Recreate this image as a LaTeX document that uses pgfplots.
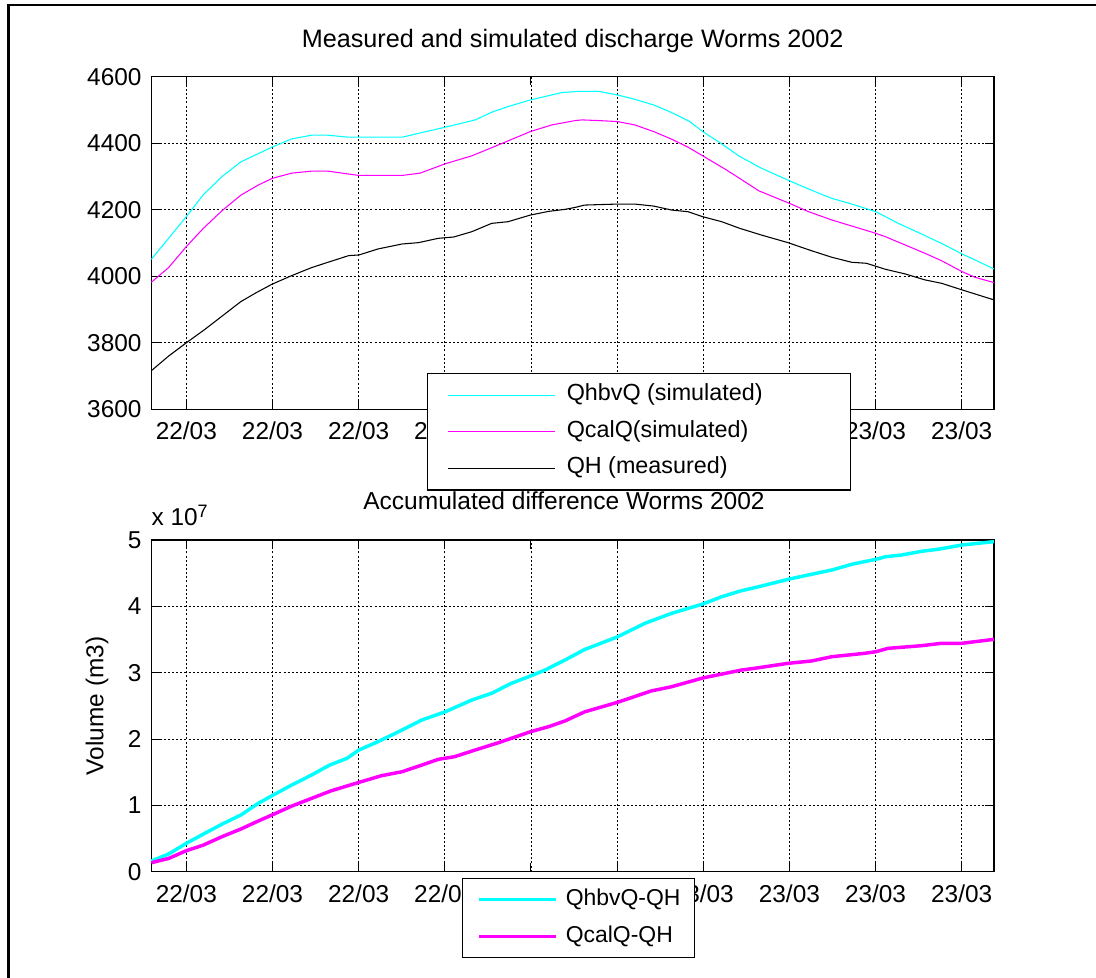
\documentclass[border=0pt]{standalone}
\usepackage{fontspec}
\setmainfont{Liberation Sans}
\usepackage{pgfplots}
\pgfplotsset{compat=1.18}
\definecolor{mcyan}{RGB}{0,255,255}
\definecolor{mmag}{RGB}{255,0,255}
\begin{document}
\begin{tikzpicture}
\path[use as bounding box] (0,0) rectangle (822pt,733.5pt);
\draw[line width=2.2pt] (6.2pt,0pt) -- (6.2pt,729.75pt) -- (822pt,729.75pt);
\pgfplotsset{common/.style={
  scale only axis, width=632pt, anchor=south west, clip=false,
  xmin=0, xmax=9.781,
  xtick={0.406,1.406,2.406,3.406,4.406,5.406,6.406,7.406,8.406,9.406},
  grid=major,
  major grid style={black, line width=0.55pt, dash pattern=on 1.5pt off 1.6pt},
  tick align=inside, major tick length=6.5pt,
  every tick/.style={black, line width=0.8pt},
  axis line style={line width=0.8pt},
  tick label style={font=\fontsize{18.3}{21}\selectfont},
  /pgf/number format/assume math mode=true,
  /pgf/number format/1000 sep={},
  xticklabel style={inner sep=0pt, anchor=north, yshift=-9.3pt},
  yticklabel style={inner sep=0pt, anchor=east, xshift=-7.2pt},
  title style={font=\fontsize{18.4}{22}\selectfont, inner sep=0pt, anchor=base},
  legend cell align=left,
}}
% ---------- top axis ----------
\begin{axis}[common, at={(113.5pt,426.5pt)}, height=249.5pt,
  xticklabels={22/03,22/03,22/03,22/03,,,,,23/03,23/03},
  ymin=3600, ymax=4600, ytick={3600,3800,4000,4200,4400,4600},
  title={Measured and simulated discharge Worms 2002},
  title style={at={(0.5,1)}, yshift=15.5pt, font=\fontsize{18.9}{22}\selectfont},
  legend image code/.code={\draw[#1] (0pt,0pt) -- (80pt,0pt);},
  legend style={at={(rel axis cs:0.3268,0.110)}, anchor=north west,
    draw=black, line width=0.9pt, fill=white,
    inner xsep=15pt, inner ysep=7.6pt, row sep=9.9pt,
    font=\fontsize{17.5}{21}\selectfont,
    cells={anchor=west},
    nodes={inner sep=0pt, text height=13pt, text depth=4.5pt},
    /tikz/every odd column/.append style={column sep=8.8pt}},
]
\addplot[mcyan, line width=0.8pt, mark=none] coordinates {
(0,4051) (0.406,4179) (0.60,4244) (0.817,4299) (1.04,4344) (1.40,4388) (1.63,4413) (1.86,4424) (2.05,4424) (2.29,4418) (2.41,4418) (2.91,4418) (3.14,4432) (3.41,4448) (3.76,4470) (3.95,4493) (4.14,4510) (4.40,4530) (4.76,4552) (4.96,4556) (5.19,4556) (5.41,4545) (5.61,4532) (5.83,4515) (6.04,4492) (6.25,4465) (6.40,4435) (6.62,4398) (6.83,4360) (7.08,4325) (7.39,4289) (7.63,4262) (7.90,4234) (8.13,4217) (8.41,4194) (8.67,4159) (8.94,4127) (9.17,4099) (9.41,4067) (9.52,4054) (9.78,4022)
};
\addlegendentry{\makebox[198pt][l]{QhbvQ (simulated)}}
\addplot[mmag, line width=0.8pt, mark=none] coordinates {
(0,3982) (0.20,4026) (0.406,4089) (0.60,4143) (0.82,4197) (1.04,4244) (1.24,4274) (1.40,4294) (1.63,4310) (1.86,4316) (2.05,4316) (2.41,4303) (2.91,4303) (3.12,4310) (3.41,4338) (3.72,4362) (4.03,4395) (4.40,4435) (4.65,4455) (4.92,4468) (5.00,4470) (5.19,4468) (5.41,4465) (5.61,4455) (5.83,4435) (6.04,4412) (6.23,4388) (6.40,4362) (6.66,4322) (6.83,4294) (7.05,4257) (7.39,4221) (7.63,4194) (7.90,4169) (8.13,4151) (8.41,4129) (8.52,4119) (8.75,4094) (8.98,4069) (9.17,4047) (9.41,4014) (9.56,3997) (9.78,3981)
};
\addlegendentry{\makebox[198pt][l]{QcalQ(simulated)}}
\addplot[black, line width=0.8pt, mark=none] coordinates {
(0,3716) (0.20,3760) (0.406,3800) (0.62,3840) (0.84,3884) (1.04,3924) (1.22,3951) (1.40,3976) (1.63,4002) (1.86,4026) (2.05,4042) (2.29,4062) (2.41,4064) (2.63,4082) (2.91,4097) (3.10,4101) (3.33,4114) (3.51,4118) (3.72,4134) (3.95,4159) (4.14,4164) (4.40,4184) (4.61,4195) (4.80,4201) (4.92,4207) (5.03,4214) (5.41,4217) (5.61,4217) (5.83,4211) (6.04,4199) (6.23,4194) (6.40,4179) (6.62,4164) (6.83,4144) (7.08,4124) (7.39,4101) (7.66,4077) (7.90,4057) (8.13,4042) (8.30,4039) (8.52,4021) (8.75,4007) (8.98,3989) (9.17,3979) (9.41,3959) (9.78,3929)
};
\addlegendentry{\makebox[198pt][l]{QH (measured)}}
\end{axis}
% ---------- bottom axis ----------
\begin{axis}[common, at={(113.5pt,79.7pt)}, height=248.8pt,
  xticklabels={22/03,22/03,22/03,22/03,,,23/03,23/03,23/03,23/03},
  ymin=0, ymax=5, ytick={0,1,2,3,4,5},
  title={Accumulated difference Worms 2002},
  title style={at={(0.4897,1)}, yshift=16.7pt},
  ylabel={Volume (m3)},
  ylabel style={at={(rel axis cs:-0.0644,0.5)}, anchor=center, inner sep=0pt, font=\fontsize{18.3}{21}\selectfont},
  legend image code/.code={\draw[#1] (0pt,0pt) -- (58pt,0pt);},
  legend style={at={(rel axis cs:0.369,-0.0181)}, anchor=north west,
    draw=black, line width=0.9pt, fill=white,
    inner xsep=10.8pt, inner ysep=7.3pt, row sep=10pt,
    font=\fontsize{17.2}{21}\selectfont,
    cells={anchor=west},
    nodes={inner sep=0pt, text height=13pt, text depth=4.5pt},
    /tikz/every odd column/.append style={column sep=5.8pt}},
]
\addplot[mcyan, line width=2.6pt, mark=none, line join=round] coordinates {
(0,0.161) (0.20,0.267) (0.406,0.428) (0.62,0.579) (0.84,0.73) (1.04,0.855) (1.24,1.03) (1.40,1.146) (1.63,1.307) (1.86,1.458) (2.07,1.608) (2.27,1.709) (2.41,1.835) (2.63,1.96) (2.87,2.11) (3.14,2.287) (3.41,2.41) (3.72,2.588) (3.95,2.69) (4.18,2.84) (4.40,2.95) (4.57,3.04) (4.80,3.19) (5.03,3.35) (5.41,3.54) (5.73,3.745) (6.04,3.895) (6.40,4.035) (6.62,4.145) (6.85,4.236) (7.05,4.296) (7.39,4.407) (7.66,4.483) (7.90,4.548) (8.13,4.634) (8.41,4.709) (8.52,4.748) (8.71,4.774) (8.94,4.83) (9.13,4.86) (9.41,4.925) (9.78,4.975)
};
\addlegendentry{\makebox[86pt][l]{QhbvQ-QH}}
\addplot[mmag, line width=2.6pt, mark=none, line join=round] coordinates {
(0,0.136) (0.20,0.20) (0.406,0.317) (0.60,0.40) (0.82,0.528) (1.04,0.644) (1.24,0.764) (1.40,0.855) (1.63,0.99) (1.86,1.106) (2.09,1.221) (2.41,1.347) (2.67,1.447) (2.91,1.507) (3.14,1.608) (3.33,1.694) (3.52,1.734) (3.76,1.835) (4.03,1.945) (4.40,2.11) (4.61,2.186) (4.80,2.272) (5.03,2.41) (5.41,2.553) (5.80,2.724) (6.04,2.789) (6.40,2.92) (6.85,3.04) (7.05,3.075) (7.39,3.141) (7.66,3.176) (7.90,3.241) (8.28,3.292) (8.41,3.316) (8.55,3.367) (8.94,3.407) (9.17,3.443) (9.41,3.443) (9.78,3.503)
};
\addlegendentry{\makebox[86pt][l]{QcalQ-QH}}
\node[anchor=base west, inner sep=0pt, font=\fontsize{18.3}{21}\selectfont, yshift=10.7pt] at (rel axis cs:0,1) {x 10\raisebox{6.3pt}{\fontsize{13.5}{15}\selectfont 7}};
\end{axis}
\end{tikzpicture}
\end{document}
